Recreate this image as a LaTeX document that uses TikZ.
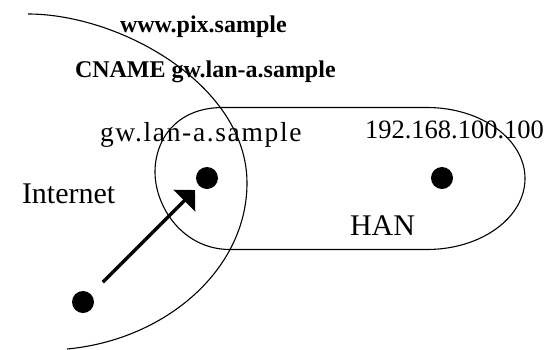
\documentclass[tikz,border=0pt]{standalone}
\usepackage{fontspec}
\setmainfont{Liberation Serif}
\newfontfamily\spacedserif[LetterSpace=6]{Liberation Serif}
\usetikzlibrary{arrows.meta}

\tikzset{
  outline/.style={line width=1.1pt, black},
  hostdot/.style={circle, fill=black, minimum size=22pt, inner sep=0pt, outer sep=0pt},
  label/.style={inner sep=0pt, outer sep=0pt, anchor=base west},
  boldlabel/.style={label, font=\fontsize{24}{28}\selectfont\bfseries},
  biglabel/.style={label, font=\fontsize{30}{36}\selectfont},
  conn/.style={line width=3.5pt, -{Triangle[length=15pt,width=30pt]}}
}

\begin{document}
\begin{tikzpicture}[x=1pt, y=-1pt]
  \useasboundingbox (0,0) rectangle (546,349);

  % Internet boundary
  \draw[outline] (28,14) .. controls (120,14) and (247,85) .. (247,183)
                 .. controls (247,270) and (165,340) .. (67,349);

  % HAN boundary (rounded on both ends)
  \draw[outline] (223,107.5) -- (427,107.5)
        arc[start angle=-90, end angle=90, x radius=98, y radius=71]
        -- (230,249.5)
        .. controls (183,249.5) and (155,207) .. (155,172)
        .. controls (155,140) and (176,107.5) .. cycle;

  % hosts
  \node[hostdot] (gw)   at (207,178) {};
  \node[hostdot] (host) at (442,178) {};
  \node[hostdot] (ext)  at (83,302)  {};

  % connection from the outside into the gateway
  \draw[conn, shorten <=17pt, shorten >=6pt] (ext) -- (gw);

  % labels
  \node[boldlabel] (www)   at (120,32) {www.pix.sample};
  \node[boldlabel] (cname) at (75,77)  {CNAME gw.lan-a.sample};
  \node[label, font=\fontsize{27.5}{32}\spacedserif] (gwname) at (100,141) {gw.lan-a.sample};
  \node[label, font=\fontsize{26.5}{32}\selectfont] (ip) at (365,138) {192.168.100.100};
  \node[biglabel] (inet) at (22,203) {Internet};
  \node[biglabel] (han)  at (350,235) {HAN};
\end{tikzpicture}
\end{document}
